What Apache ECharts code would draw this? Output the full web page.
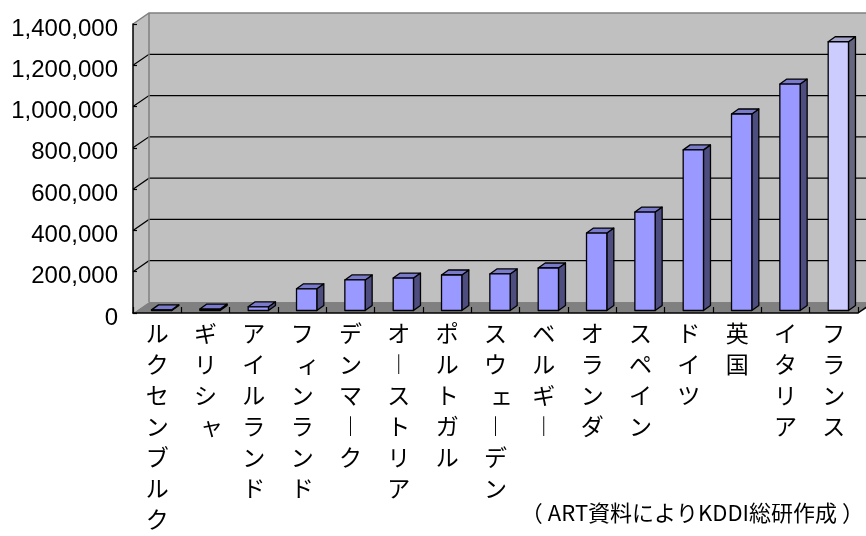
<!DOCTYPE html>
<html><head><meta charset="utf-8">
<script src="https://cdn.jsdelivr.net/npm/echarts@6/dist/echarts.min.js"></script>
<style>html,body{margin:0;padding:0;background:#fff}#chart{width:866px;height:536px}</style>
</head><body><div id="chart"></div>
<script>
// ---- data ----
const categories = ['ルクセンブルク','ギリシャ','アイルランド','フィンランド','デンマーク','オーストリア','ポルトガル','スウェーデン','ベルギー','オランダ','スペイン','ドイツ','英国','イタリア','フランス'];
const values = [3000, 7000, 18000, 105000, 148000, 157000, 172000, 177000, 206000, 375000, 477000, 778000, 952000, 1097000, 1302000];
const yTicks = [0, 200000, 400000, 600000, 800000, 1000000, 1200000, 1400000];
const highlightCategory = 'フランス';
const sourceNote = '（ART資料によりKDDI総研作成）';

// ---- 3D look constants ----
const DEPTH_X = 16, DEPTH_Y = 11;
const BAR_SHIFT_X = 4.5, BAR_SHIFT_Y = 2.5;
const BAR_DX = 7, BAR_DY = 5;
const BAR_RATIO = 0.42;
const SMALL_KANA = 'ァィゥェォャュョッ';

function fmt(v){ return String(v).replace(/\B(?=(\d{3})+(?!\d))/g, ','); }

function verticalLabel(v){
  return v.split('').map(c => {
    if (c === 'ー') return '︱';
    if (SMALL_KANA.indexOf(c) >= 0) return '{sm|' + c + '}';
    return c;
  }).join('\n');
}

function noteText(t){
  return t.replace('（', '{p|（}').replace('）', '{p|）}');
}

function renderWalls(params, api){
  const cs = params.coordSys;
  const x0 = cs.x, x1 = cs.x + cs.width, yTop = cs.y, yBot = cs.y + cs.height;
  const ch = [];
  ch.push({type:'rect', shape:{x:x0+DEPTH_X, y:yTop-DEPTH_Y, width:cs.width, height:cs.height}, style:{fill:'#C0C0C0'}});
  ch.push({type:'polygon', shape:{points:[[x0,yTop],[x0+DEPTH_X,yTop-DEPTH_Y],[x0+DEPTH_X,yBot-DEPTH_Y],[x0,yBot]]}, style:{fill:'#C0C0C0'}});
  ch.push({type:'polygon', shape:{points:[[x0,yBot],[x1,yBot],[x1+DEPTH_X,yBot-DEPTH_Y],[x0+DEPTH_X,yBot-DEPTH_Y]]}, style:{fill:'#808080'}});
  yTicks.forEach((v, i) => {
    if (i === 0 || i === yTicks.length - 1) return;
    const y = api.coord([0, v])[1];
    ch.push({type:'polyline', shape:{points:[[x0,y],[x0+DEPTH_X,y-DEPTH_Y],[x1+DEPTH_X,y-DEPTH_Y]]}, style:{stroke:'#000', lineWidth:1.2, fill:null}});
  });
  ch.push({type:'polyline', shape:{points:[[x0,yTop],[x0+DEPTH_X,yTop-DEPTH_Y],[x1+DEPTH_X,yTop-DEPTH_Y]]}, style:{stroke:'#808080', lineWidth:1.5, fill:null}});
  ch.push({type:'line', shape:{x1:x0+DEPTH_X, y1:yTop-DEPTH_Y, x2:x0+DEPTH_X, y2:yBot-DEPTH_Y}, style:{stroke:'#808080', lineWidth:1.5}});
  ch.push({type:'line', shape:{x1:x1, y1:yBot, x2:x1+DEPTH_X, y2:yBot-DEPTH_Y}, style:{stroke:'#000', lineWidth:1.5}});
  return {type:'group', children:ch};
}

function renderBar(params, api){
  const idx = api.value(0), val = api.value(1);
  const base = api.coord([idx, 0]);
  const top = api.coord([idx, val]);
  const w = api.size([1, 0])[0] * BAR_RATIO;
  const cx = base[0] + BAR_SHIFT_X;
  const xa = cx - w/2, xb = cx + w/2;
  const yb = base[1] - BAR_SHIFT_Y, yt = top[1] - BAR_SHIFT_Y;
  const hl = categories[idx] === highlightCategory;
  const cFront = hl ? '#CCCCFF' : '#9999FF';
  const cSide = hl ? '#66667F' : '#4D4D80';
  const cTop = hl ? '#A3A3CC' : '#7A7ACC';
  const ln = {stroke:'#000', lineWidth:1.3, lineJoin:'round'};
  return {type:'group', children:[
    {type:'polygon', shape:{points:[[xb,yb],[xb+BAR_DX,yb-BAR_DY],[xb+BAR_DX,yt-BAR_DY],[xb,yt]]}, style:Object.assign({fill:cSide}, ln)},
    {type:'polygon', shape:{points:[[xa,yt],[xa+BAR_DX,yt-BAR_DY],[xb+BAR_DX,yt-BAR_DY],[xb,yt]]}, style:Object.assign({fill:cTop}, ln)},
    {type:'rect', shape:{x:xa, y:yt, width:w, height:Math.max(yb-yt,0)}, style:Object.assign({fill:cFront}, ln)}
  ]};
}

const chart = echarts.init(document.getElementById('chart'), null, {renderer:'canvas'});
chart.setOption({
  animation:false,
  backgroundColor:'#fff',
  title:{text:noteText(sourceNote), right:2, bottom:7,
    textStyle:{fontFamily:'Noto Sans CJK JP', fontSize:22, fontWeight:'normal', color:'#000',
      rich:{p:{fontFamily:'Noto Sans CJK JP', fontSize:22, color:'#000', padding:[0,5,0,5]}}}},
  grid:{left:133, top:24, width:725, height:289, containLabel:false},
  xAxis:{type:'category', data:categories, z:5,
    axisLine:{lineStyle:{color:'#000', width:1.5}},
    axisTick:{show:true, inside:true, length:6, alignWithLabel:false, lineStyle:{color:'#000', width:1.2}},
    axisLabel:{interval:0, margin:5, color:'#000', fontFamily:'Noto Sans CJK JP', fontSize:23, lineHeight:31,
      formatter:verticalLabel,
      rich:{sm:{fontFamily:'Noto Sans CJK JP', fontSize:23, lineHeight:31, color:'#000', padding:[0,0,0,12]}}},
    splitLine:{show:false}},
  yAxis:{type:'value', min:yTicks[0], max:yTicks[yTicks.length-1], interval:yTicks[1]-yTicks[0], z:5,
    axisLine:{show:true, lineStyle:{color:'#000', width:1.5}},
    axisTick:{show:true, inside:true, length:4, lineStyle:{color:'#000', width:1.2}},
    axisLabel:{margin:15, color:'#000', formatter:v => '{a|' + fmt(v) + '}',
      rich:{a:{fontFamily:'Liberation Sans', fontSize:24, color:'#000', padding:[10,0,0,0]}}},
    splitLine:{show:false}},
  series:[
    {type:'custom', name:'walls', silent:true, z:1, renderItem:renderWalls, data:[[0,0]]},
    {type:'custom', name:'bars', z:2, renderItem:renderBar, encode:{x:0, y:1},
      data:values.map((v,i) => [i, v])}
  ]
});
</script></body></html>
